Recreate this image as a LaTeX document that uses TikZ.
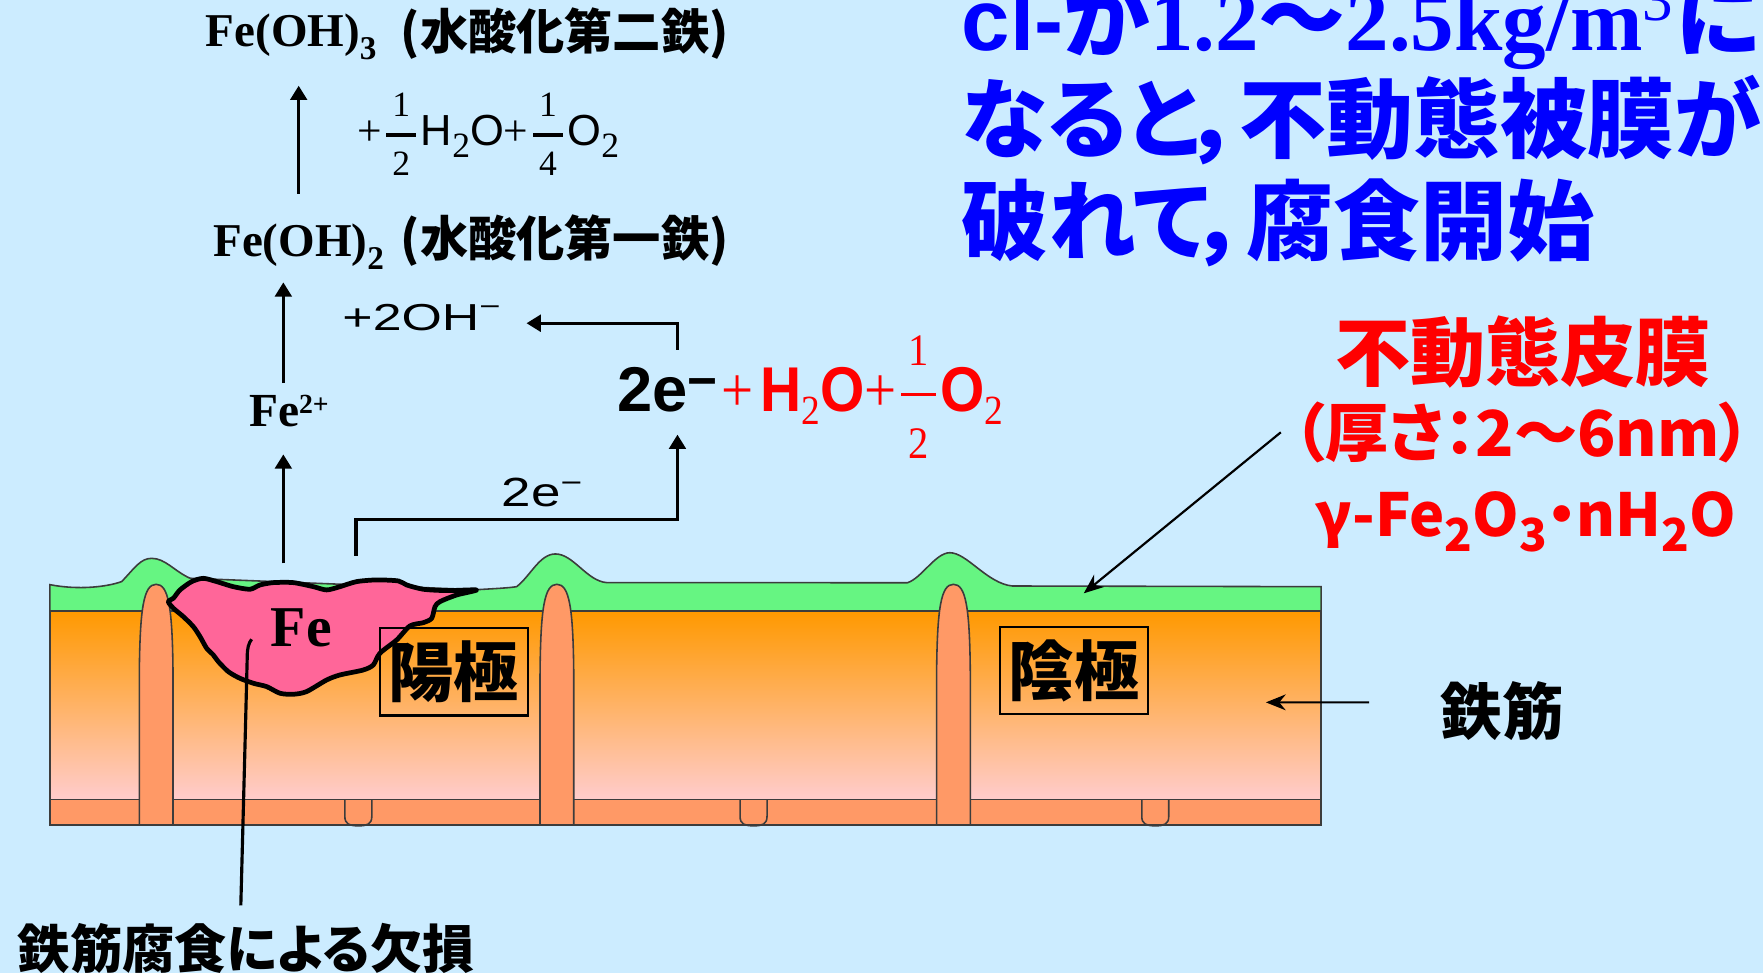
\documentclass[tikz,border=0pt]{standalone}
\usepackage{amsmath}
\usepackage{fontspec}
\usepackage{graphicx}
\usetikzlibrary{arrows.meta}
\setmainfont{Liberation Serif}
\newfontfamily\jpfont[RawFeature=+palt]{Noto Sans CJK JP}
\newfontfamily\arfont{Liberation Sans}

\definecolor{bgblue}{RGB}{204,236,255}
\definecolor{filmgreen}{RGB}{102,245,130}
\definecolor{concorange}{RGB}{255,153,0}
\definecolor{concpink}{RGB}{255,204,204}
\definecolor{barorange}{RGB}{255,153,102}
\definecolor{rustpink}{RGB}{255,102,153}
\definecolor{edgegray}{RGB}{60,60,60}
\definecolor{headblue}{RGB}{0,0,255}
\definecolor{alertred}{RGB}{255,0,0}

\newcommand\fsz[1]{\fontsize{#1}{#1}\selectfont}
% lowered subscript: drop, size, text
\newcommand\lowsub[3]{\raisebox{-#1}{\fsz{#2}#3}}
% fraction: numerator, denominator, bar width, digit size
\newcommand\frc[4]{\ensuremath{\genfrac{}{}{0.9pt}{0}%
  {\hbox to #3{\hss\rmfamily\mdseries\fsz{#4}#1\hss}}%
  {\hbox to #3{\hss\rmfamily\mdseries\fsz{#4}#2\hss}}}}

\begin{document}
\begin{tikzpicture}[x=0.01cm, y=-0.01cm,
  txt/.style={inner sep=0pt},
  arr/.style={-{Triangle[length=3.6pt,width=4.2pt]}, line width=0.8pt},
  thinarr/.style={-{Stealth[length=5pt,width=4pt]}, line width=0.55pt},
  slabline/.style={draw=edgegray, line width=0.4pt},
  polebox/.style={draw, line width=0.6pt, inner sep=0pt,
    minimum width=37.4pt, minimum height=22.1pt,
    font=\jpfont\bfseries\fsz{16.5pt}}]
  \useasboundingbox (0,0) rectangle (1568,865);
  \fill[bgblue] (0,0) rectangle (1568,865);

  % concrete and bottom bar
  \draw[slabline, top color=concorange, bottom color=concpink]
    (44.3,543.4) rectangle (1175,711);
  \draw[slabline, fill=barorange] (44.3,711) rectangle (1175,733.7);
  \foreach \nx in {306.7,658.2,1015.5}
    \draw[slabline] (\nx,711) -- (\nx,726)
      .. controls (\nx,733) and ({\nx+4},734.5) .. ({\nx+12},734.5)
      .. controls ({\nx+20},734.5) and ({\nx+24},733) .. ({\nx+24},726)
      -- ({\nx+24},711);

  % passive film
  \draw[slabline, fill=filmgreen] (44.3,543.4) -- (44.3,520)
    .. controls (70,525) and (95,522) .. (108.2,517.3)
    .. controls (120,505) and (125,496.6) .. (134.9,496.6)
    .. controls (147,496.6) and (155,508) .. (169,514.3)
    -- (424,524.5)
    .. controls (440,523.5) and (452,523) .. (459.5,521.8)
    .. controls (472,512) and (480,492.7) .. (494,492.7)
    .. controls (510,492.7) and (522,517) .. (539.8,518.2)
    -- (807.1,518.3)
    .. controls (820,514) and (832,491.6) .. (844.8,491.6)
    .. controls (860,491.6) and (878,519) .. (900.4,521.2)
    -- (1175,521.8) -- (1175,543.4) -- cycle;

  % stirrups
  \foreach \px in {123.9,480.3,833}
    \draw[slabline, fill=barorange] (\px,733.7) -- (\px,600)
      .. controls ({\px+0.5},540) and ({\px+4},519.7) .. ({\px+15},519.7)
      .. controls ({\px+26},519.7) and ({\px+29.5},540) .. ({\px+30},600)
      -- ({\px+30},733.7) -- cycle;

  % corrosion pit
  \draw[line width=1.2pt, fill=rustpink, line join=round]
    plot[smooth cycle, tension=0.45] coordinates {
      (149.7,535.1) (154.2,532.1) (160.1,524.7) (170.5,517.3) (180.8,514.4)
      (192.7,517.3) (207.5,521.8) (222.3,524.1) (231.2,520.3) (243.1,518.2)
      (260.9,518.2) (278.7,521.8) (290.5,524.7) (302.4,521.8) (317.2,517.3)
      (335,515.8) (354.3,516.7) (361.7,520.3) (376.5,524.1) (397.2,525.3)
      (423.9,524.7) (406.1,529.2) (391.3,535.1) (386.9,539.6) (383.9,550)
      (376.5,553.8) (364.6,556.7) (352.8,569.2) (337.9,581) (332,591.4)
      (323.1,595.9) (302.4,600.3) (290.5,604.8) (272.7,615.1) (260.9,617.5)
      (249,616.6) (237.2,610.7) (225.3,607.7) (213.4,603.3) (203.1,597.4)
      (194.2,588.5) (189.7,582.5) (183.8,576.6) (177.9,566.2) (171.9,557.3)
      (163,548.4) (154.2,541)};
  \node[txt, anchor=base west] (ferust) at (240.1,575.1) {\bfseries\fsz{14.6pt}Fe};

  \node[polebox] (anode) at (403.6,597.6) {陽極};
  \node[polebox] (cathode) at (955.4,596.3) {陰極};

  % loss label and leader
  \node[txt, anchor=west] (loss) at (15.3,843.4) {\jpfont\bfseries\fsz{13.2pt}鉄筋腐食による欠損};
  \coordinate (pit) at (223.8,568.6);
  \draw[line width=0.8pt] (pit) .. controls (221,572) and (219.9,577) .. (219.9,584)
    .. controls (218,660) .. ([shift={(-5,-15)}]loss.north);

  % reaction chain
  \node[txt, anchor=base west] (fe3) at (182.3,41.5)
    {\bfseries\fsz{11.9pt}Fe(OH)\lowsub{3.3pt}{8.4pt}{3}};
  \node[txt, anchor=west] (fe3name) at (355.7,29.7) {\jpfont\bfseries\fsz{12.2pt}(水酸化第二鉄)};
  \node[txt, anchor=west] (oxy) at (317,119.5)
    {\fsz{11pt}+\frc{1}{2}{7.5pt}{9pt}{\arfont H}\lowsub{3pt}{9pt}{2}{\arfont O}+\frc{1}{4}{7.5pt}{9pt}{\arfont O}\lowsub{3pt}{9pt}{2}};
  \node[txt, anchor=base west] (fe2) at (189,228.3)
    {\bfseries\fsz{11.9pt}Fe(OH)\lowsub{3.3pt}{8.4pt}{2}};
  \node[txt, anchor=west] (fe2name) at (355.7,214) {\jpfont\bfseries\fsz{12.2pt}(水酸化第一鉄)};
  \node[txt, anchor=base west] (hydrox) at (303.9,294)
    {\scalebox{1.38}[1]{\arfont\fsz{9.5pt}+2OH\textsuperscript{−}}};
  \node[txt, anchor=base west] (fe) at (220.8,379.5)
    {\bfseries\fsz{12pt}Fe\raisebox{3.4pt}{\fsz{7pt}2+}};
  \node[txt, anchor=base west] (elec) at (548.4,366)
    {\arfont\bfseries\fsz{16pt}2e\raisebox{3.3pt}{\fsz{13pt}−}};
  \node[txt, anchor=base west, text=alertred] (water) at ([xshift=0.5pt]elec.base east)
    {\scalebox{0.9}[1]{\fsz{16pt}+\hspace{2pt}{\arfont\bfseries H}\lowsub{3.4pt}{10.5pt}{2}{\arfont\bfseries O}+\frc{1}{2}{9.8pt}{11.4pt}{\arfont\bfseries O}\lowsub{3.4pt}{10.5pt}{2}}};
  \node[txt, anchor=base west] (eflow) at (445.5,450.6)
    {\scalebox{1.3}[1]{\arfont\fsz{10.3pt}2e\textsuperscript{−}}};

  \coordinate (anodeout) at (252,501);
  \coordinate (eout) at (316.6,494.5);
  \draw[arr, shorten >=6.7pt] (anodeout) -- (anodeout |- fe.south);
  \draw[arr, shorten <=2.8pt, shorten >=3pt] (anodeout |- fe.north) -- (anodeout |- fe2.south);
  \draw[arr, shorten <=7.4pt, shorten >=6.3pt] (fe2.north) -- (fe2.north |- fe3.south);
  \draw[arr, shorten >=5.5pt] (eout) -- ++(0,-32.6) -| ([xshift=2.5pt]elec.south);
  \draw[arr, shorten <=4.2pt] ([xshift=2.5pt]elec.north) |- ([shift={(20,5)}]hydrox.east);

  % chloride note
  \node[txt, anchor=base west, text=headblue] (head1) at (854.7,44.5)
    {\fsz{22pt}{\arfont\bfseries cl-}{\jpfont\bfseries が}{\bfseries 1.2}{\jpfont\bfseries ～}{\bfseries 2.5kg/m\textsuperscript{\mdseries 3}}{\jpfont\bfseries に}};
  \node[txt, anchor=base west, text=headblue] (head2) at (854.7,135)
    {\jpfont\bfseries\fsz{22pt}なると，不動態被膜が};
  \node[txt, anchor=base west, text=headblue] (head3) at (854.7,225.5)
    {\jpfont\bfseries\fsz{22pt}破れて，腐食開始};

  % passive film note
  \node[txt, text=alertred] (film) at (1354.8,313.5) {\jpfont\bfseries\fsz{19pt}不動態皮膜};
  \node[txt, text=alertred] (thick) at (1354,384.5) {\jpfont\bfseries\fsz{16pt}（厚さ：2～6nm）};
  \node[txt, anchor=base west, text=alertred] (gamma) at (1169.5,477.5)
    {\jpfont\bfseries\fsz{15pt}γ-Fe\lowsub{3.7pt}{11.5pt}{2}O\lowsub{3.7pt}{11.5pt}{3}・nH\lowsub{3.7pt}{11.5pt}{2}O};
  \coordinate (filmpt) at (963.9,527.7);
  \draw[thinarr] ([xshift=-3pt]thick.west) -- (filmpt);

  \node[txt] (rebar) at (1336,632) {\jpfont\bfseries\fsz{15.5pt}鉄筋};
  \coordinate (barpt) at (1125.9,624.7);
  \draw[thinarr] ([shift={(-63,-7.3)}]rebar.west) -- (barpt);
\end{tikzpicture}
\end{document}
